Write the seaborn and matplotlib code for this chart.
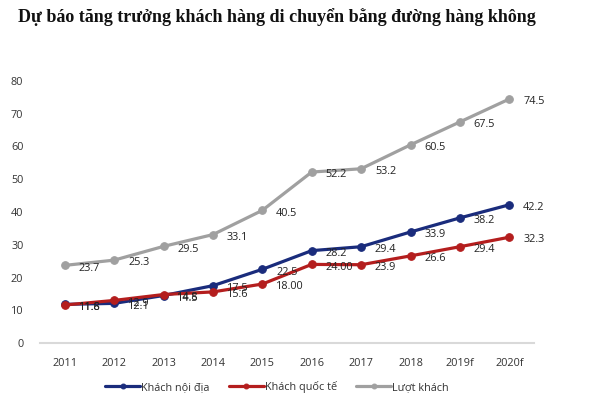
import matplotlib
matplotlib.use("Agg")
import matplotlib.pyplot as plt
import seaborn as sns
import pandas as pd

years = ["2011", "2012", "2013", "2014", "2015", "2016", "2017", "2018", "2019f", "2020f"]
noi_dia = [11.8, 12.1, 14.5, 17.5, 22.5, 28.2, 29.4, 33.9, 38.2, 42.2]
quoc_te = [11.6, 13.0, 14.8, 15.6, 18.0, 24.0, 23.9, 26.6, 29.4, 32.3]
luot_khach = [23.7, 25.3, 29.5, 33.1, 40.5, 52.2, 53.2, 60.5, 67.5, 74.5]
quoc_te_labels = ["11.6", "12.9", "14.8", "15.6", "18.00", "24.00", "23.9", "26.6", "29.4", "32.3"]

series_names = ["Khách nội địa", "Khách quốc tế", "Lượt khách"]
colors = ["#1A2C7C", "#B41E1E", "#A0A0A0"]

rows = []
for name, vals in zip(series_names, [noi_dia, quoc_te, luot_khach]):
    for y, v in zip(years, vals):
        rows.append({"Năm": y, "Giá trị": v, "Chuỗi": name})
df = pd.DataFrame(rows)

sns.set_theme(style="white")
plt.rcParams["font.family"] = ["Open Sans", "DejaVu Sans"]

fig = plt.figure(figsize=(6, 4), dpi=100)
ax = fig.add_axes([0.0667, 0.1425, 0.8233, 0.655])

for name, col, z in zip(series_names, colors, [3, 4, 2]):
    sub = df[df["Chuỗi"] == name]
    sns.lineplot(data=sub, x="Năm", y="Giá trị", color=col, linewidth=2.3,
                 marker="o", markersize=5.5, markeredgecolor=col, sort=False,
                 label=name, ax=ax, zorder=z)

label_sets = [
    [f"{v:.1f}" for v in noi_dia],
    quoc_te_labels,
    [f"{v:.1f}" for v in luot_khach],
]
for vals, labs in zip([noi_dia, quoc_te, luot_khach], label_sets):
    for i, (v, t) in enumerate(zip(vals, labs)):
        ax.annotate(t, (i, v), xytext=(10, -2), textcoords="offset points",
                    ha="left", va="center", fontsize=7.8, color="#222222", zorder=6)

ax.set_xlim(-0.5, 9.5)
ax.set_ylim(0, 80)
ax.set_yticks(range(0, 81, 10))
ax.set_xlabel("")
ax.set_ylabel("")
ax.tick_params(axis="both", length=0, labelsize=7.8, colors="#333333")
ax.tick_params(axis="y", pad=12)
ax.tick_params(axis="x", pad=11)
for s in ["left", "right", "top"]:
    ax.spines[s].set_visible(False)
ax.spines["bottom"].set_color("#D9D9D9")
ax.spines["bottom"].set_linewidth(1.5)
ax.grid(False)

leg = ax.legend(loc="center", bbox_to_anchor=(0.48, -0.168), ncol=3,
                frameon=False, fontsize=7.8, handlelength=3.2, handletextpad=0.1,
                columnspacing=1.8)
for h in leg.legend_handles:
    h.set_markersize(3.5)
for t in leg.get_texts():
    t.set_color("#333333")

fig.text(0.03, 0.958, "Dự báo tăng trưởng khách hàng di chuyển bằng đường hàng không",
         fontsize=13, fontweight="bold", family="Liberation Serif", ha="left", va="center",
         color="#111111")

fig.savefig("out.png", dpi=100)
